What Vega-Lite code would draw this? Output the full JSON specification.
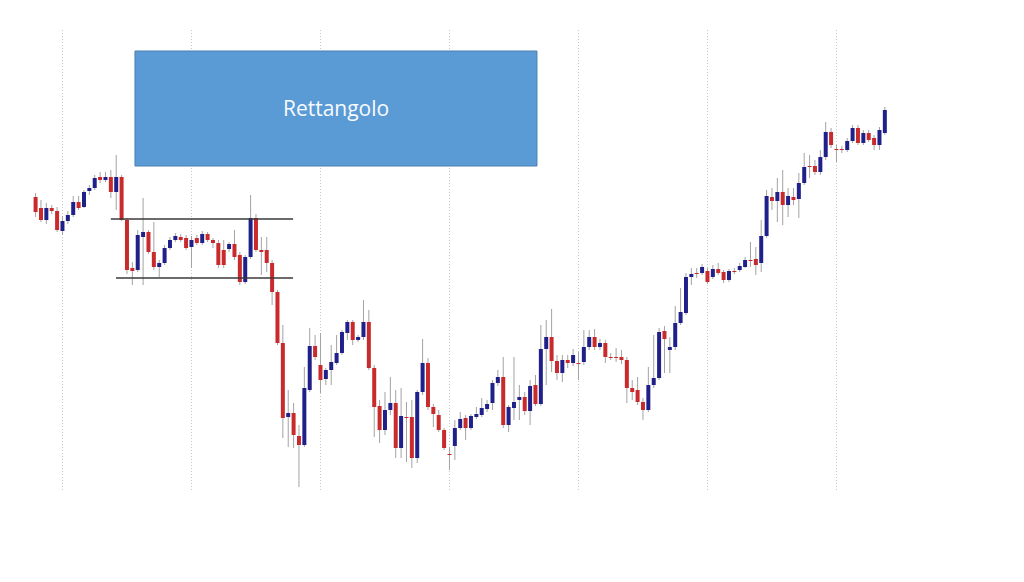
{
  "$schema": "https://vega.github.io/schema/vega-lite/v6.json",
  "width": 1024,
  "height": 582,
  "autosize": {"type": "fit", "contains": "padding"},
  "padding": 0,
  "background": "white",
  "view": {"stroke": null},
  "config": {"scale": {"continuousPadding": 0}},
  "datasets": {
    "candles": [
      {"i":0,"o":403,"c":388,"h":407,"l":383},{"i":1,"o":392,"c":380,"h":400,"l":378},{"i":2,"o":380,"c":392,"h":397,"l":376},
      {"i":3,"o":392,"c":389,"h":395,"l":386},{"i":4,"o":389,"c":370,"h":393,"l":368},{"i":5,"o":369,"c":379,"h":384,"l":365},
      {"i":6,"o":379,"c":385,"h":389,"l":376},{"i":7,"o":385,"c":398,"h":404,"l":383},{"i":8,"o":398,"c":392,"h":404,"l":390},
      {"i":9,"o":393,"c":408,"h":410,"l":392},{"i":10,"o":409,"c":412,"h":415,"l":405},{"i":11,"o":412,"c":422,"h":425,"l":410},
      {"i":12,"o":423,"c":420,"h":428,"l":417},{"i":13,"o":420,"c":423,"h":428,"l":418},{"i":14,"o":423,"c":408,"h":430,"l":402},
      {"i":15,"o":408,"c":423,"h":445,"l":390},{"i":16,"o":423,"c":380,"h":425,"l":379},{"i":17,"o":380,"c":330,"h":382,"l":326},
      {"i":18,"o":332,"c":329,"h":338,"l":315},{"i":19,"o":330,"c":365,"h":370,"l":328},{"i":20,"o":363,"c":368,"h":402,"l":315},
      {"i":21,"o":368,"c":348,"h":370,"l":346},{"i":22,"o":348,"c":333,"h":378,"l":330},{"i":23,"o":333,"c":337,"h":340,"l":323},
      {"i":24,"o":337,"c":352,"h":355,"l":335},{"i":25,"o":352,"c":360,"h":363,"l":350},{"i":26,"o":360,"c":364,"h":367,"l":358},
      {"i":27,"o":363,"c":360,"h":366,"l":358},{"i":28,"o":362,"c":352,"h":365,"l":350},{"i":29,"o":353,"c":360,"h":364,"l":332},
      {"i":30,"o":362,"c":357,"h":365,"l":355},{"i":31,"o":357,"c":366,"h":369,"l":355},{"i":32,"o":366,"c":360,"h":368,"l":358},
      {"i":33,"o":360,"c":357,"h":362,"l":352},{"i":34,"o":357,"c":335,"h":360,"l":332},{"i":35,"o":350,"c":335,"h":360,"l":332},
      {"i":36,"o":351,"c":356,"h":358,"l":348},{"i":37,"o":356,"c":343,"h":370,"l":340},{"i":38,"o":345,"c":318,"h":348,"l":315},
      {"i":39,"o":318,"c":343,"h":345,"l":316},{"i":40,"o":343,"c":382,"h":405,"l":341},{"i":41,"o":382,"c":350,"h":386,"l":348},
      {"i":42,"o":350,"c":348,"h":363,"l":325},{"i":43,"o":350,"c":337,"h":363,"l":328},{"i":44,"o":337,"c":308,"h":340,"l":295},
      {"i":45,"o":308,"c":257,"h":310,"l":255},{"i":46,"o":257,"c":182,"h":275,"l":162},{"i":47,"o":183,"c":187,"h":210,"l":153},
      {"i":48,"o":187,"c":165,"h":197,"l":152},{"i":49,"o":164,"c":155,"h":175,"l":113},{"i":50,"o":155,"c":212,"h":233,"l":153},
      {"i":51,"o":210,"c":254,"h":272,"l":208},{"i":52,"o":254,"c":243,"h":265,"l":240},{"i":53,"o":235,"c":220,"h":267,"l":207},
      {"i":54,"o":221,"c":230,"h":232,"l":215},{"i":55,"o":230,"c":238,"h":255,"l":215},{"i":56,"o":237,"c":247,"h":265,"l":235},
      {"i":57,"o":247,"c":268,"h":270,"l":245},{"i":58,"o":267,"c":278,"h":280,"l":260},{"i":59,"o":278,"c":260,"h":280,"l":255},
      {"i":60,"o":260,"c":263,"h":265,"l":258},{"i":61,"o":263,"c":278,"h":300,"l":260},{"i":62,"o":278,"c":232,"h":290,"l":230},
      {"i":63,"o":232,"c":193,"h":235,"l":163},{"i":64,"o":194,"c":170,"h":200,"l":157},{"i":65,"o":170,"c":190,"h":208,"l":165},
      {"i":66,"o":190,"c":197,"h":223,"l":185},{"i":67,"o":197,"c":152,"h":210,"l":142},{"i":68,"o":152,"c":184,"h":212,"l":142},
      {"i":69,"o":183,"c":182,"h":198,"l":138},{"i":70,"o":183,"c":142,"h":200,"l":132},{"i":71,"o":142,"c":208,"h":210,"l":137},
      {"i":72,"o":208,"c":237,"h":261,"l":205},{"i":73,"o":237,"c":193,"h":242,"l":190},{"i":74,"o":193,"c":186,"h":196,"l":173},
      {"i":75,"o":185,"c":170,"h":190,"l":168},{"i":76,"o":170,"c":152,"h":172,"l":150},{"i":77,"o":146,"c":145,"h":153,"l":130},
      {"i":78,"o":154,"c":172,"h":180,"l":140},{"i":79,"o":172,"c":181,"h":188,"l":170},{"i":80,"o":182,"c":172,"h":185,"l":160},
      {"i":81,"o":172,"c":184,"h":186,"l":170},{"i":82,"o":183,"c":186,"h":193,"l":181},{"i":83,"o":185,"c":192,"h":202,"l":183},
      {"i":84,"o":191,"c":196,"h":200,"l":188},{"i":85,"o":197,"c":217,"h":220,"l":190},{"i":86,"o":217,"c":223,"h":230,"l":214},
      {"i":87,"o":223,"c":175,"h":243,"l":172},{"i":88,"o":175,"c":193,"h":195,"l":168},{"i":89,"o":192,"c":198,"h":243,"l":180},
      {"i":90,"o":200,"c":203,"h":215,"l":180},{"i":91,"o":203,"c":189,"h":208,"l":185},{"i":92,"o":189,"c":214,"h":220,"l":175},
      {"i":93,"o":215,"c":196,"h":225,"l":194},{"i":94,"o":196,"c":251,"h":275,"l":194},{"i":95,"o":251,"c":263,"h":280,"l":215},
      {"i":96,"o":263,"c":239,"h":291,"l":228},{"i":97,"o":239,"c":227,"h":245,"l":220},{"i":98,"o":227,"c":240,"h":245,"l":218},
      {"i":99,"o":240,"c":237,"h":245,"l":232},{"i":100,"o":237,"c":245,"h":251,"l":234},{"i":101,"o":237,"c":236,"h":248,"l":220},
      {"i":102,"o":238,"c":253,"h":270,"l":235},{"i":103,"o":253,"c":263,"h":270,"l":250},{"i":104,"o":263,"c":253,"h":271,"l":250},
      {"i":105,"o":253,"c":257,"h":261,"l":250},{"i":106,"o":257,"c":243,"h":260,"l":237},{"i":107,"o":243,"c":242,"h":247,"l":240},
      {"i":108,"o":243,"c":242,"h":252,"l":238},{"i":109,"o":243,"c":240,"h":250,"l":236},{"i":110,"o":240,"c":212,"h":243,"l":197},
      {"i":111,"o":212,"c":208,"h":220,"l":200},{"i":112,"o":210,"c":198,"h":223,"l":195},{"i":113,"o":198,"c":190,"h":202,"l":180},
      {"i":114,"o":190,"c":215,"h":233,"l":188},{"i":115,"o":215,"c":222,"h":265,"l":212},{"i":116,"o":222,"c":268,"h":272,"l":220},
      {"i":117,"o":269,"c":261,"h":274,"l":227},{"i":118,"o":250,"c":253,"h":263,"l":227},{"i":119,"o":253,"c":277,"h":294,"l":250},
      {"i":120,"o":277,"c":288,"h":312,"l":275},{"i":121,"o":287,"c":323,"h":327,"l":285},{"i":122,"o":323,"c":326,"h":332,"l":315},
      {"i":123,"o":327,"c":326,"h":332,"l":322},{"i":124,"o":327,"c":333,"h":336,"l":325},{"i":125,"o":329,"c":318,"h":332,"l":316},
      {"i":126,"o":323,"c":331,"h":335,"l":321},{"i":127,"o":331,"c":327,"h":337,"l":325},{"i":128,"o":328,"c":320,"h":330,"l":317},
      {"i":129,"o":320,"c":329,"h":331,"l":318},{"i":130,"o":329,"c":328,"h":332,"l":326},{"i":131,"o":330,"c":334,"h":337,"l":328},
      {"i":132,"o":333,"c":340,"h":343,"l":332},{"i":133,"o":340,"c":339,"h":358,"l":333},{"i":134,"o":341,"c":335,"h":353,"l":325},
      {"i":135,"o":337,"c":364,"h":380,"l":328},{"i":136,"o":364,"c":404,"h":410,"l":362},{"i":137,"o":403,"c":399,"h":412,"l":390},
      {"i":138,"o":399,"c":408,"h":422,"l":378},{"i":139,"o":408,"c":395,"h":430,"l":375},{"i":140,"o":395,"c":404,"h":412,"l":383},
      {"i":141,"o":403,"c":400,"h":412,"l":395},{"i":142,"o":401,"c":417,"h":427,"l":382},{"i":143,"o":417,"c":433,"h":447,"l":415},
      {"i":144,"o":434,"c":433,"h":445,"l":422},{"i":145,"o":434,"c":428,"h":440,"l":425},{"i":146,"o":428,"c":443,"h":450,"l":425},
      {"i":147,"o":443,"c":468,"h":478,"l":440},{"i":148,"o":468,"c":455,"h":472,"l":452},{"i":149,"o":451,"c":450,"h":455,"l":438},
      {"i":150,"o":451,"c":450,"h":454,"l":447},{"i":151,"o":450,"c":459,"h":462,"l":448},{"i":152,"o":459,"c":472,"h":475,"l":457},
      {"i":153,"o":472,"c":457,"h":475,"l":455},{"i":154,"o":457,"c":467,"h":470,"l":455},{"i":155,"o":467,"c":460,"h":470,"l":458},
      {"i":156,"o":462,"c":455,"h":465,"l":450},{"i":157,"o":455,"c":470,"h":473,"l":450},{"i":158,"o":467,"c":490,"h":493,"l":465}
    ],
    "grid": [{"g":5},{"g":29},{"g":53},{"g":77},{"g":101},{"g":125},{"g":149}],
    "levels": [
      {"from":14.0,"to":47.9,"p":381},
      {"from":14.96,"to":47.9,"p":322}
    ],
    "box": [{"from":18.49,"to":93.28,"top":549,"bottom":434,"mid":55.9,"ty":490,"label":"Rettangolo"}]
  },
  "layer": [
    {
      "data": {"name": "grid"},
      "mark": {"type": "rule", "color": "#c4c4c4", "strokeWidth": 1, "strokeDash": [1, 2]},
      "encoding": {
        "x": {"field": "g", "type": "quantitative", "axis": null, "scale": {"domain": [-6.623, 183.89], "nice": false, "zero": false, "padding": 0}},
        "y": {"datum": 570, "type": "quantitative", "axis": null, "scale": {"domain": [18, 600], "nice": false, "zero": false, "padding": 0}},
        "y2": {"datum": 110}
      }
    },
    {
      "data": {"name": "candles"},
      "mark": {"type": "rule", "color": "#a3a3a3", "strokeWidth": 1},
      "encoding": {
        "x": {"field": "i", "type": "quantitative", "axis": null, "scale": {"domain": [-6.623, 183.89], "nice": false, "zero": false, "padding": 0}},
        "y": {"field": "l", "type": "quantitative", "axis": null, "scale": {"domain": [18, 600], "nice": false, "zero": false, "padding": 0}},
        "y2": {"field": "h"}
      }
    },
    {
      "data": {"name": "candles"},
      "mark": {"type": "bar", "size": 4},
      "encoding": {
        "x": {"field": "i", "type": "quantitative", "axis": null, "scale": {"domain": [-6.623, 183.89], "nice": false, "zero": false, "padding": 0}},
        "y": {"field": "o", "type": "quantitative", "axis": null, "scale": {"domain": [18, 600], "nice": false, "zero": false, "padding": 0}},
        "y2": {"field": "c"},
        "color": {"condition": {"test": "datum.c >= datum.o", "value": "#20208a"}, "value": "#c92a2c"}
      }
    },
    {
      "data": {"name": "levels"},
      "mark": {"type": "rule", "color": "#3a3a3a", "strokeWidth": 1.5},
      "encoding": {
        "x": {"field": "from", "type": "quantitative", "axis": null, "scale": {"domain": [-6.623, 183.89], "nice": false, "zero": false, "padding": 0}},
        "x2": {"field": "to"},
        "y": {"field": "p", "type": "quantitative", "axis": null, "scale": {"domain": [18, 600], "nice": false, "zero": false, "padding": 0}}
      }
    },
    {
      "data": {"name": "box"},
      "mark": {"type": "rect", "fill": "#5b9bd5", "stroke": "#4a7fb0", "strokeWidth": 1},
      "encoding": {
        "x": {"field": "from", "type": "quantitative", "axis": null, "scale": {"domain": [-6.623, 183.89], "nice": false, "zero": false, "padding": 0}},
        "x2": {"field": "to"},
        "y": {"field": "top", "type": "quantitative", "axis": null, "scale": {"domain": [18, 600], "nice": false, "zero": false, "padding": 0}},
        "y2": {"field": "bottom"}
      }
    },
    {
      "data": {"name": "box"},
      "mark": {"type": "text", "color": "#f7fafd", "font": "Open Sans", "fontSize": 21, "align": "center", "baseline": "middle"},
      "encoding": {
        "x": {"field": "mid", "type": "quantitative", "axis": null, "scale": {"domain": [-6.623, 183.89], "nice": false, "zero": false, "padding": 0}},
        "y": {"field": "ty", "type": "quantitative", "axis": null, "scale": {"domain": [18, 600], "nice": false, "zero": false, "padding": 0}},
        "text": {"field": "label"}
      }
    }
  ]
}
